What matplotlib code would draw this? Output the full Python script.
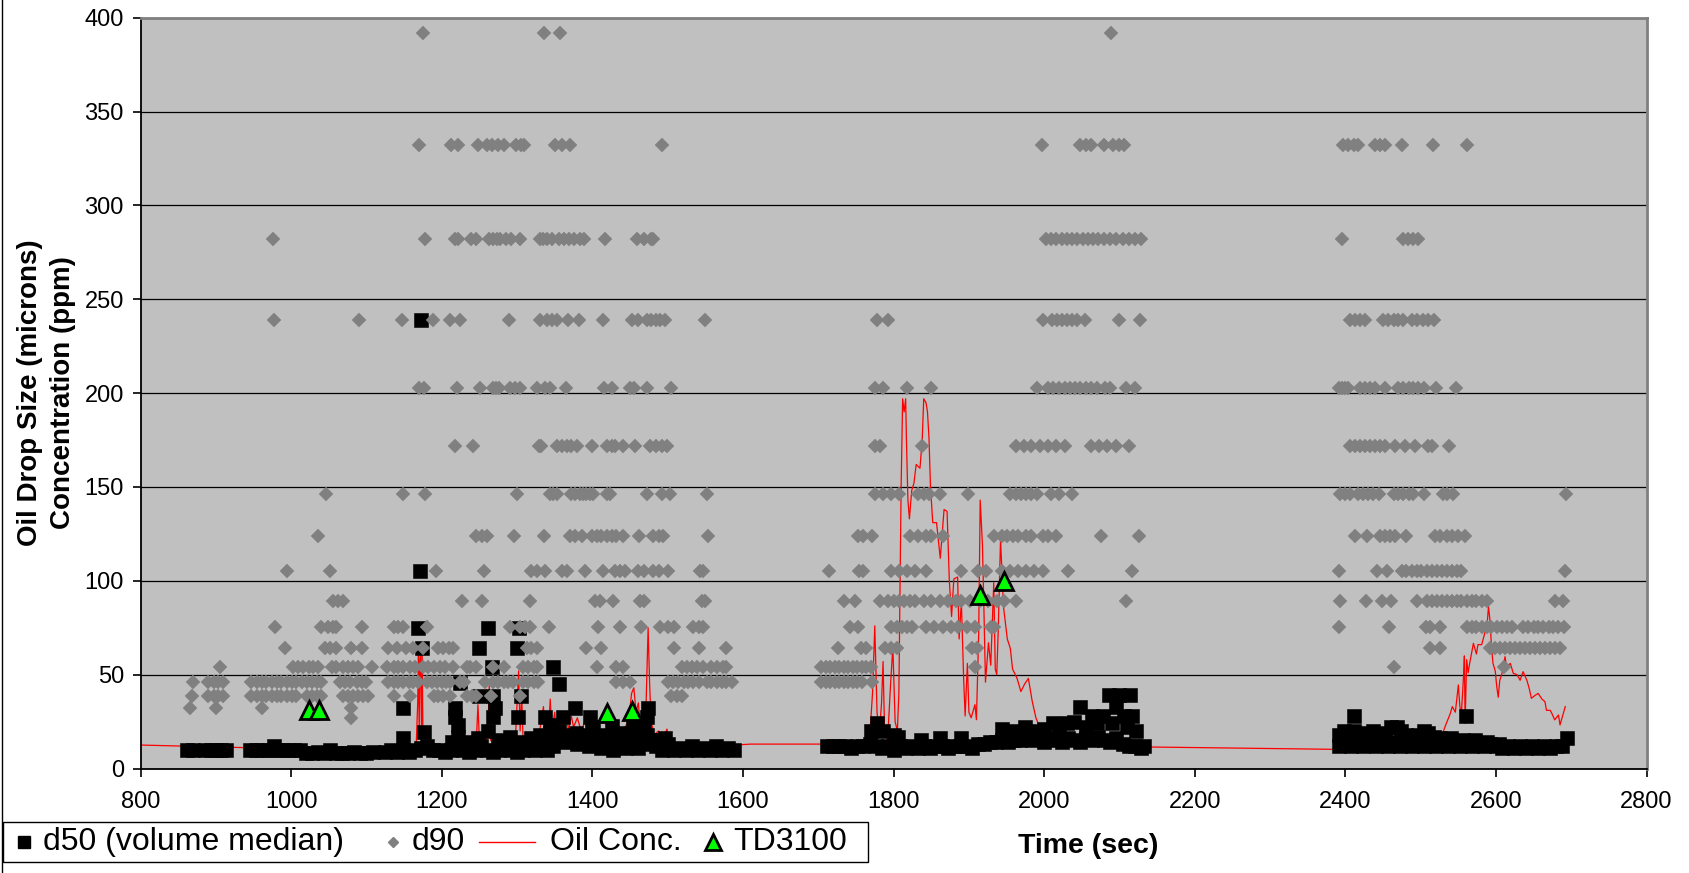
import matplotlib
matplotlib.use('Agg')
import matplotlib.pyplot as plt
from matplotlib.lines import Line2D
from matplotlib.patches import Rectangle

plt.rcParams['font.family'] = ['Liberation Sans', 'DejaVu Sans']

# d90 readings, one list of times per size bin (microns)
d90_at_392 = [1175, 1336, 1357, 2089]
d90_at_332 = [1170, 1212, 1222, 1248, 1260, 1267, 1275, 1282, 1298, 1305, 1309, 1350, 1360, 1370, 1492,
              1997, 2048, 2055, 2062, 2079, 2092, 2099, 2106,
              2397, 2404, 2411, 2417, 2439, 2446, 2453, 2475, 2516, 2561]
d90_at_282 = [976, 1178, 1217, 1222, 1239, 1246, 1263, 1268, 1273, 1277, 1285, 1292, 1304, 1331, 1335, 1340,
              1347, 1355, 1362, 1369, 1376, 1384, 1389, 1417, 1459, 1468, 1478, 1480,
              2002, 2009, 2016, 2023, 2030, 2037, 2044, 2051, 2058, 2065, 2072, 2080, 2088, 2096, 2104, 2113,
              2121, 2128, 2395, 2477, 2483, 2490, 2497]
d90_at_239 = [977, 1090, 1147, 1188, 1211, 1224, 1289, 1331, 1340, 1347, 1353, 1367, 1382, 1414, 1452, 1460,
              1473, 1478, 1484, 1490, 1497, 1550,
              1778, 1792, 1999, 2010, 2017, 2024, 2030, 2037, 2044, 2054, 2099, 2127,
              2406, 2413, 2419, 2426, 2450, 2457, 2464, 2470, 2477, 2488, 2495, 2503, 2510, 2517]
d90_at_203 = [1170, 1177, 1220, 1251, 1268, 1272, 1276, 1291, 1297, 1304, 1326, 1337, 1344, 1365, 1415, 1426,
              1450, 1455, 1472, 1505,
              1775, 1786, 1818, 1850, 1991, 2005, 2012, 2019, 2027, 2034, 2041, 2048, 2055, 2062, 2070, 2081,
              2088, 2109, 2120,
              2391, 2395, 2399, 2404, 2419, 2426, 2433, 2439, 2453, 2470, 2477, 2484, 2490, 2497, 2504, 2520, 2547]
d90_at_172 = [1217, 1241, 1329, 1332, 1353, 1359, 1366, 1372, 1379, 1400, 1419, 1426, 1430, 1441, 1457, 1477,
              1485, 1492, 1499,
              1775, 1782, 1838, 1962, 1973, 1983, 1994, 2005, 2016, 2027, 2062, 2073, 2084, 2095, 2113,
              2406, 2413, 2419, 2426, 2433, 2439, 2446, 2453, 2466, 2479, 2492, 2510, 2515, 2537]
d90_at_146 = [1046, 1149, 1178, 1300, 1344, 1348, 1353, 1372, 1377, 1384, 1388, 1392, 1397, 1401, 1419, 1423,
              1472, 1492, 1503, 1552,
              1775, 1786, 1796, 1807, 1832, 1840, 1847, 1861, 1899, 1955, 1962, 1969, 1976, 1983, 1991, 2009,
              2019, 2037,
              2393, 2399, 2406, 2417, 2424, 2430, 2437, 2444, 2464, 2470, 2477, 2484, 2490, 2504, 2530, 2535,
              2543, 2693]
d90_at_124 = [1036, 1246, 1253, 1260, 1296, 1336, 1370, 1377, 1386, 1399, 1406, 1412, 1419, 1426, 1432, 1441,
              1462, 1481, 1488, 1494, 1553,
              1753, 1760, 1771, 1822, 1832, 1843, 1850, 1865, 1933, 1944, 1951, 1958, 1965, 1976, 1983, 1998,
              2005, 2016, 2076, 2126,
              2413, 2429, 2446, 2453, 2459, 2466, 2481, 2519, 2526, 2535, 2541, 2550, 2559]
d90_at_105 = [995, 1051, 1192, 1256, 1319, 1326, 1337, 1359, 1366, 1390, 1414, 1430, 1437, 1443, 1461, 1468,
              1481, 1488, 1501, 1543, 1547,
              1714, 1754, 1760, 1796, 1807, 1818, 1829, 1843, 1890, 1912, 1923, 1944, 1955, 1965, 1976, 1987,
              1998, 2032, 2117,
              2392, 2442, 2455, 2475, 2481, 2488, 2495, 2501, 2508, 2515, 2521, 2528, 2535, 2541, 2548, 2554, 2691]
d90_at_89 = [1056, 1062, 1069, 1227, 1253, 1317, 1403, 1410, 1428, 1463, 1468, 1545, 1550,
             1734, 1749, 1782, 1793, 1800, 1807, 1814, 1822, 1829, 1840, 1850, 1861, 1872, 1883, 1890, 1901,
             1915, 1926, 1937, 1947, 1962, 2109,
             2393, 2427, 2448, 2461, 2495, 2508, 2515, 2521, 2528, 2535, 2541, 2548, 2554, 2561, 2568, 2574,
             2581, 2588, 2678, 2689]
d90_at_75 = [978, 1040, 1049, 1056, 1060, 1094, 1136, 1142, 1149, 1180, 1291, 1304, 1311, 1317, 1342, 1408,
             1437, 1465, 1490, 1501, 1508, 1534, 1541, 1547,
             1742, 1753, 1796, 1804, 1811, 1818, 1825, 1843, 1854, 1865, 1876, 1886, 1897, 1908, 1929, 1933,
             2391, 2458, 2507, 2512, 2526, 2561, 2568, 2574, 2581, 2588, 2594, 2601, 2608, 2614, 2621, 2636,
             2643, 2650, 2656, 2663, 2670, 2676, 2683, 2690]
d90_at_64 = [992, 1045, 1052, 1060, 1080, 1094, 1129, 1140, 1153, 1162, 1175, 1195, 1202, 1209, 1215, 1313,
             1319, 1326, 1392, 1412, 1508, 1541, 1578,
             1726, 1757, 1764, 1788, 1796, 1804, 1904, 1911,
             2513, 2526, 2592, 2599, 2605, 2612, 2619, 2625, 2632, 2639, 2645, 2652, 2658, 2665, 2672, 2678, 2685]
d90_at_54 = [905, 1003, 1009, 1016, 1023, 1029, 1036, 1054, 1060, 1069, 1076, 1082, 1089, 1107, 1127, 1136,
             1142, 1149, 1158, 1164, 1175, 1182, 1189, 1198, 1204, 1215, 1233, 1238, 1246, 1268, 1282, 1308,
             1315, 1322, 1326, 1406, 1432, 1441, 1519, 1525, 1532, 1539, 1547, 1558, 1565, 1574, 1578,
             1704, 1710, 1716, 1722, 1728, 1734, 1740, 1746, 1752, 1758, 1764, 1770, 1908,
             2464, 2610]
d90_at_46 = [870, 890, 897, 903, 910, 947, 954, 961, 967, 974, 981, 987, 994, 1001, 1007, 1014, 1021, 1027,
             1034, 1040, 1065, 1071, 1078, 1087, 1094, 1100, 1129, 1136, 1142, 1149, 1156, 1162, 1169, 1180,
             1187, 1193, 1200, 1206, 1211, 1224, 1229, 1257, 1268, 1275, 1282, 1288, 1295, 1308, 1315, 1322,
             1328, 1432, 1441, 1450, 1501, 1507, 1514, 1521, 1527, 1534, 1541, 1552, 1558, 1565, 1572, 1578,
             1585,
             1704, 1710, 1716, 1722, 1728, 1734, 1740, 1746, 1752, 1758, 1771]
d90_at_38 = [868, 890, 897, 903, 910, 947, 954, 961, 967, 974, 981, 987, 994, 1001, 1007, 1021, 1027, 1034,
             1040, 1069, 1076, 1082, 1089, 1096, 1102, 1136, 1158, 1189, 1195, 1202, 1211, 1233, 1240, 1246,
             1266, 1304, 1505, 1512, 1519]
d90_at_32 = [865, 900, 961, 1079]
d90_at_27 = [1079]

d90_rows = [(392, d90_at_392), (332, d90_at_332), (282, d90_at_282), (239, d90_at_239),
            (203, d90_at_203), (172, d90_at_172), (146, d90_at_146), (124, d90_at_124),
            (105, d90_at_105), (89, d90_at_89), (75.5, d90_at_75), (64, d90_at_64),
            (54, d90_at_54), (46, d90_at_46), (38.5, d90_at_38), (32, d90_at_32), (27, d90_at_27)]

# d50 (time, microns)
d50_run1 = [(862, 10), (870, 10), (886, 10), (893, 10), (900, 10), (907, 10), (914, 10),
            (945, 10), (953, 10), (961, 10), (969, 10), (977, 12), (981, 10), (988, 10), (996, 10),
            (1004, 10), (1012, 10), (1020, 8.5), (1028, 8.5), (1036, 9), (1044, 8.5), (1052, 10),
            (1060, 8.5), (1068, 8.5), (1076, 8.5), (1084, 9), (1092, 8.5), (1100, 8.5), (1108, 9),
            (1124, 9), (1132, 10), (1140, 9), (1148, 10), (1156, 9), (1164, 10), (1172, 11), (1180, 12),
            (1188, 10), (1196, 10), (1204, 9), (1212, 10), (1220, 13), (1228, 10), (1236, 9), (1244, 10),
            (1252, 12), (1260, 10), (1268, 9), (1276, 10), (1284, 13), (1292, 10), (1300, 9), (1308, 10),
            (1316, 13), (1324, 10), (1332, 12), (1340, 10), (1348, 12), (1356, 15), (1364, 14), (1372, 16),
            (1380, 13), (1388, 15), (1396, 12), (1404, 16), (1412, 11), (1420, 14), (1428, 10), (1436, 13),
            (1444, 11), (1452, 14), (1460, 11), (1468, 13), (1476, 15), (1484, 12), (1492, 10), (1500, 13),
            (1508, 10), (1516, 11), (1524, 10), (1532, 12), (1540, 10), (1548, 11), (1556, 10), (1564, 12),
            (1572, 10), (1580, 11), (1588, 10),
            (1149, 16.5), (1176, 19.5), (1213, 14), (1222, 17), (1236, 14), (1248, 16), (1262, 20),
            (1275, 15), (1290, 17), (1305, 14), (1318, 16), (1330, 18), (1344, 19), (1355, 20), (1366, 18),
            (1378, 19), (1390, 18), (1400, 21.5), (1410, 18), (1424, 17), (1440, 19), (1458, 16), (1472, 18),
            (1485, 15), (1496, 16),
            (1148, 32), (1169, 75), (1171, 105), (1172, 239), (1174, 64), (1218, 32), (1218, 27.5),
            (1222, 23), (1224, 45.5), (1249, 64), (1249, 38.5), (1262, 75), (1267, 54), (1268, 38.5),
            (1271, 32), (1268, 27.5), (1302, 75), (1300, 64), (1305, 38.5), (1301, 27.5), (1337, 27.5),
            (1344, 23), (1348, 54), (1355, 45), (1361, 27.5), (1377, 32), (1397, 27.5), (1401, 22),
            (1426, 22.5), (1454, 22.5), (1465, 23), (1468, 22.5), (1472, 27.5), (1474, 32)]
d50_run2 = [(1712, 12), (1720, 12), (1728, 12), (1736, 12), (1744, 11), (1752, 12), (1760, 12), (1768, 13),
            (1776, 12), (1784, 11), (1792, 12), (1800, 10), (1808, 12), (1816, 11), (1824, 12), (1832, 11),
            (1840, 12), (1848, 11), (1856, 12), (1864, 12), (1872, 11), (1880, 12), (1888, 12), (1896, 12),
            (1904, 11), (1912, 13), (1920, 13), (1928, 14), (1936, 14), (1944, 15), (1952, 14), (1960, 15),
            (1968, 15), (1976, 16), (1984, 15), (1992, 16), (2000, 14), (2008, 15), (2016, 16), (2024, 14),
            (2032, 16), (2040, 15), (2048, 14), (2056, 16), (2064, 15), (2072, 17), (2080, 15), (2088, 14),
            (2096, 16), (2104, 13), (2112, 12), (2120, 12), (2128, 11), (2133, 12),
            (1770, 20), (1778, 24), (1786, 20), (1800, 18), (1806, 17), (1836, 15), (1862, 16), (1890, 16),
            (1944, 21), (1960, 20), (1975, 22), (1990, 20), (2000, 21), (2012, 24), (2020, 22), (2030, 24),
            (2040, 25), (2048, 33), (2056, 22), (2063, 28), (2070, 24), (2078, 28), (2086, 39), (2090, 24),
            (2096, 33), (2100, 39), (2106, 28), (2110, 22), (2114, 39), (2116, 28), (2122, 20)]
d50_run3 = [(2392, 12), (2400, 13), (2408, 12), (2416, 13), (2424, 12), (2432, 14), (2440, 12), (2448, 13),
            (2456, 12), (2464, 14), (2472, 12), (2480, 13), (2488, 12), (2496, 13), (2504, 12), (2512, 14),
            (2520, 12), (2528, 13), (2536, 12), (2544, 13), (2552, 12), (2560, 13), (2568, 12), (2576, 13),
            (2584, 12), (2592, 13), (2600, 12), (2608, 11), (2616, 12), (2624, 11), (2632, 12), (2640, 11),
            (2648, 12), (2656, 11), (2664, 12), (2672, 11), (2680, 12), (2688, 12), (2694, 16),
            (2392, 18), (2398, 20), (2405, 19), (2412, 20), (2420, 18), (2428, 19), (2436, 20), (2444, 19),
            (2452, 18), (2460, 22), (2468, 22), (2474, 20), (2480, 18), (2488, 17), (2496, 18), (2504, 20),
            (2510, 19), (2518, 17), (2526, 16), (2540, 16), (2556, 15), (2572, 15), (2588, 14), (2604, 13),
            (2411, 28), (2560, 28)]

# oil concentration trace (time, ppm)
oil_conc = [(800, 12.5), (850, 12), (900, 11.5), (950, 11), (1000, 10.5), (1050, 10), (1100, 9), (1120, 8.5),
            (1140, 9.5), (1160, 10.5), (1166, 12), (1168, 35), (1169, 62), (1170, 18), (1171, 58), (1172, 62),
            (1173, 22), (1174, 60), (1175, 14), (1180, 12), (1200, 12), (1215, 13), (1222, 15), (1230, 13),
            (1240, 14), (1246, 16), (1248, 34), (1250, 14), (1256, 15), (1261, 16), (1263, 44), (1265, 15),
            (1272, 14), (1280, 16), (1290, 15), (1298, 18), (1302, 52), (1304, 20), (1306, 40), (1308, 15),
            (1315, 16), (1322, 18), (1330, 20), (1335, 33), (1337, 18), (1342, 22), (1344, 37), (1346, 20),
            (1350, 30), (1352, 18), (1356, 28), (1358, 20), (1362, 25), (1366, 30), (1368, 20), (1372, 28),
            (1375, 22), (1380, 27), (1385, 20), (1390, 25), (1395, 18), (1400, 24), (1405, 18), (1410, 20),
            (1420, 18), (1430, 16), (1440, 20), (1448, 25), (1452, 40), (1455, 43), (1458, 30), (1461, 35),
            (1464, 20), (1468, 25), (1471, 30), (1474, 75), (1476, 45), (1478, 25), (1482, 18), (1488, 20),
            (1492, 15), (1496, 18), (1499, 21), (1502, 15), (1508, 14), (1515, 13), (1525, 12), (1540, 12.5),
            (1560, 12), (1590, 12.5), (1610, 13),
            (1710, 13), (1730, 13), (1750, 13.5), (1762, 14), (1768, 15), (1772, 40), (1775, 76), (1778, 30),
            (1781, 18), (1784, 35), (1786, 57), (1788, 20), (1792, 15), (1796, 45), (1799, 65), (1802, 25),
            (1805, 20), (1807, 40), (1810, 150), (1812, 197), (1814, 190), (1816, 197), (1817, 176),
            (1819, 143), (1821, 133), (1824, 148), (1827, 152), (1830, 162), (1835, 160), (1838, 175),
            (1840, 197), (1843, 195), (1845, 190), (1847, 176), (1849, 150), (1852, 131), (1857, 131),
            (1862, 112), (1867, 138), (1871, 137), (1874, 100), (1877, 81), (1880, 101), (1885, 102),
            (1887, 69), (1890, 89), (1893, 48), (1895, 28), (1898, 56), (1900, 30), (1903, 27), (1908, 34),
            (1910, 26), (1913, 72), (1915, 143), (1918, 119), (1920, 84), (1922, 46), (1926, 67), (1929, 55),
            (1933, 99), (1935, 53), (1937, 50), (1939, 74), (1942, 122), (1946, 86), (1951, 69), (1955, 64),
            (1958, 53), (1964, 48), (1969, 41), (1974, 45), (1979, 48), (1984, 36), (1989, 27), (1994, 22),
            (2000, 17), (2010, 15), (2030, 14), (2060, 14), (2090, 13), (2110, 12.5), (2132, 11.5),
            (2388, 10.2), (2400, 11), (2450, 12), (2500, 13), (2520, 14), (2527, 16), (2530, 19.7), (2534, 24),
            (2539, 29), (2542, 33), (2546, 30), (2550, 44.5), (2552, 33), (2554, 29), (2557, 50), (2558, 60),
            (2559, 24), (2561, 58), (2563, 51), (2565, 56), (2570, 66.7), (2574, 61), (2576, 66), (2581, 66),
            (2585, 72), (2588, 75.6), (2590, 86.3), (2592, 79), (2594, 65), (2596, 56), (2599, 52),
            (2601, 43.6), (2603, 38), (2605, 47), (2608, 50.7), (2612, 59.6), (2614, 54), (2619, 56),
            (2623, 50.7), (2628, 50), (2632, 47), (2636, 51.6), (2641, 47), (2644, 42.8), (2647, 37.4),
            (2652, 39), (2656, 40), (2661, 37), (2665, 35.6), (2667, 31), (2672, 31), (2674, 29.5),
            (2678, 25.9), (2683, 28.5), (2685, 23.2), (2687, 26), (2692, 33)]

td3100_time = [1023, 1037, 1420, 1453, 1915, 1947]
td3100_ppm = [31, 31, 29.5, 30.5, 92.5, 100]

x_ticks = list(range(800, 2801, 200))
y_ticks = list(range(0, 401, 50))

W, H = 1690, 873
fig = plt.figure(figsize=(W / 100, H / 100), dpi=100)
ax = fig.add_axes([140.6 / W, 1 - 768.5 / H, 1506 / W, 750.7 / H])
ax.set_facecolor('#C0C0C0')
ax.set_xlim(800, 2800)
ax.set_ylim(0, 400)
ax.set_xticks(x_ticks)
ax.set_yticks(y_ticks)
ax.grid(axis='y', color='black', lw=0.9)
ax.set_axisbelow(True)
for s in ['left', 'bottom']:
    ax.spines[s].set_color('black')
    ax.spines[s].set_linewidth(1.3)
for s in ['top', 'right']:
    ax.spines[s].set_color('#808080')
    ax.spines[s].set_linewidth(2)
ax.tick_params(direction='out', length=6, width=1.2, labelsize=17)
ax.tick_params(axis='x', pad=10)
ax.tick_params(axis='y', pad=6)

t, v = zip(*oil_conc)
ax.plot(t, v, color='#FF0000', lw=0.9, zorder=2)

d50 = d50_run1 + d50_run2 + d50_run3
t, v = zip(*d50)
ax.plot(t, v, ls='none', marker='s', ms=10.5, mfc='black', mec='black', mew=0.4, zorder=3)

d90_t, d90_v = [], []
for size, times in d90_rows:
    d90_t += times
    d90_v += [size] * len(times)
ax.plot(d90_t, d90_v, ls='none', marker='D', ms=7, mfc='#808080', mec='#808080', mew=0.3, zorder=4)

ax.plot(td3100_time, td3100_ppm, ls='none', marker='^', ms=13, mfc='#00FF00', mec='black', mew=2, zorder=5)

# axis titles
fig.text(47 / W, 1 - 393 / H, 'Oil Drop Size (microns)\nConcentration (ppm)', rotation=90,
         ha='center', va='center', fontsize=20, fontweight='bold', linespacing=1.35, multialignment='center')
fig.text(1088 / W, 1 - 846 / H, 'Time (sec)', ha='center', va='center', fontsize=20.5, fontweight='bold')

# chart area edge on the left
fig.add_artist(Line2D([2.5 / W, 2.5 / W], [0, 1], color='black', lw=1, transform=fig.transFigure))

# legend strip along the bottom
fig.add_artist(Rectangle((3 / W, 1 - 862 / H), 865 / W, 40 / H, transform=fig.transFigure,
                         facecolor='white', edgecolor='black', lw=1))
ly = 1 - 842 / H
fig.add_artist(Line2D([24 / W], [ly], ls='none', marker='s', ms=8, mfc='black', mec='black',
                      transform=fig.transFigure))
fig.text(43 / W, ly, 'd50 (volume median)', va='center', fontsize=23)
fig.add_artist(Line2D([393 / W], [ly], ls='none', marker='D', ms=5.5, mfc='#808080', mec='#808080',
                      transform=fig.transFigure))
fig.text(412 / W, ly, 'd90', va='center', fontsize=23)
fig.add_artist(Line2D([479 / W, 535 / W], [ly, ly], color='#FF0000', lw=1, transform=fig.transFigure))
fig.text(550 / W, ly, 'Oil Conc.', va='center', fontsize=23)
fig.add_artist(Line2D([713 / W], [ly], ls='none', marker='^', ms=12, mfc='#00FF00', mec='black', mew=2,
                      transform=fig.transFigure))
fig.text(733 / W, ly, 'TD3100', va='center', fontsize=23)

fig.savefig('out.png', dpi=100)
